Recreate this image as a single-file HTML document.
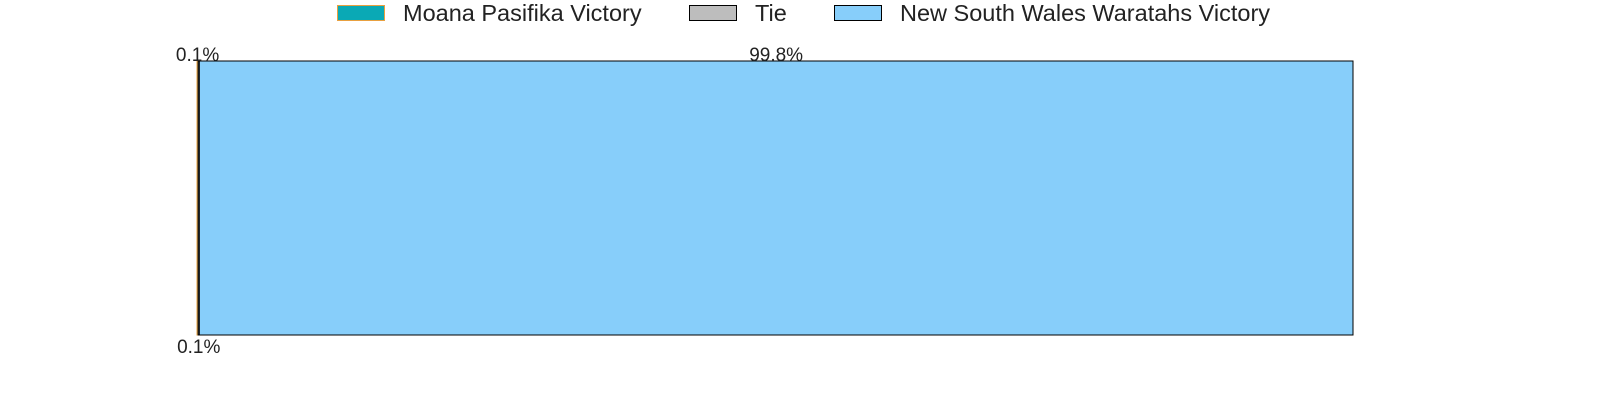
<!DOCTYPE html>
<html><head><meta charset="utf-8"><style>
body{margin:0;background:#fff;}
svg{display:block;font-family:"Liberation Sans",Arial,sans-serif;}
</style></head><body>
<svg id="chart" width="1600" height="400" viewBox="0 0 1600 400">
  <g>
    <rect x="337.5" y="5.5" width="47" height="15" fill="#0aa9b5" stroke="#e8a040" stroke-width="1"/>
    <text x="403" y="21" font-size="23.5" fill="#222">Moana Pasifika Victory</text>
    <rect x="689.5" y="5.5" width="47" height="15" fill="#bdbdbd" stroke="#000" stroke-width="1"/>
    <text x="755" y="21" font-size="23.5" fill="#222">Tie</text>
    <rect x="834.5" y="5.5" width="47" height="15" fill="#87cefa" stroke="#000" stroke-width="1"/>
    <text x="900" y="21" font-size="23.5" fill="#222">New South Wales Waratahs Victory</text>
  </g>
  <g id="bars"></g>
  <g id="labels"></g>
</svg>
<script>
const categories = ["Moana Pasifika Victory", "Tie", "New South Wales Waratahs Victory"];
const values = [0.1, 0.1, 99.8];
const valueLabels = ["0.1%", "0.1%", "99.8%"];
const fills = ["#0aa9b5", "#bdbdbd", "#87cefa"];
const strokes = ["#e8a040", "#000", "#000"];
const x0 = 197, x1 = 1353, yTop = 61, yBot = 335;
const total = values.reduce((a,b)=>a+b,0);
const xs = v => x0 + (v/total)*(x1-x0);
const ns = "http://www.w3.org/2000/svg";
const bars = document.getElementById('bars'), labels = document.getElementById('labels');
let cum = 0;
values.forEach((v,i)=>{
  const a = xs(cum), b = xs(cum+v);
  const r = document.createElementNS(ns,'rect');
  
  
  r.setAttribute('x', a); r.setAttribute('y', yTop);
  r.setAttribute('width', Math.max(b-a,0.5)); r.setAttribute('height', yBot-yTop);
  r.setAttribute('fill', fills[i]); r.setAttribute('stroke', strokes[i]); r.setAttribute('stroke-width', 1);
  bars.appendChild(r);
  const t = document.createElementNS(ns,'text');
  
  
  t.setAttribute('x', (a+b)/2); t.setAttribute('text-anchor','middle');
  t.setAttribute('y', i===1 ? 353 : 61);
  t.setAttribute('font-size', 19); t.setAttribute('fill', '#222');
  t.textContent = valueLabels[i];
  labels.appendChild(t);
  cum += v;
});
</script>
</body></html>
